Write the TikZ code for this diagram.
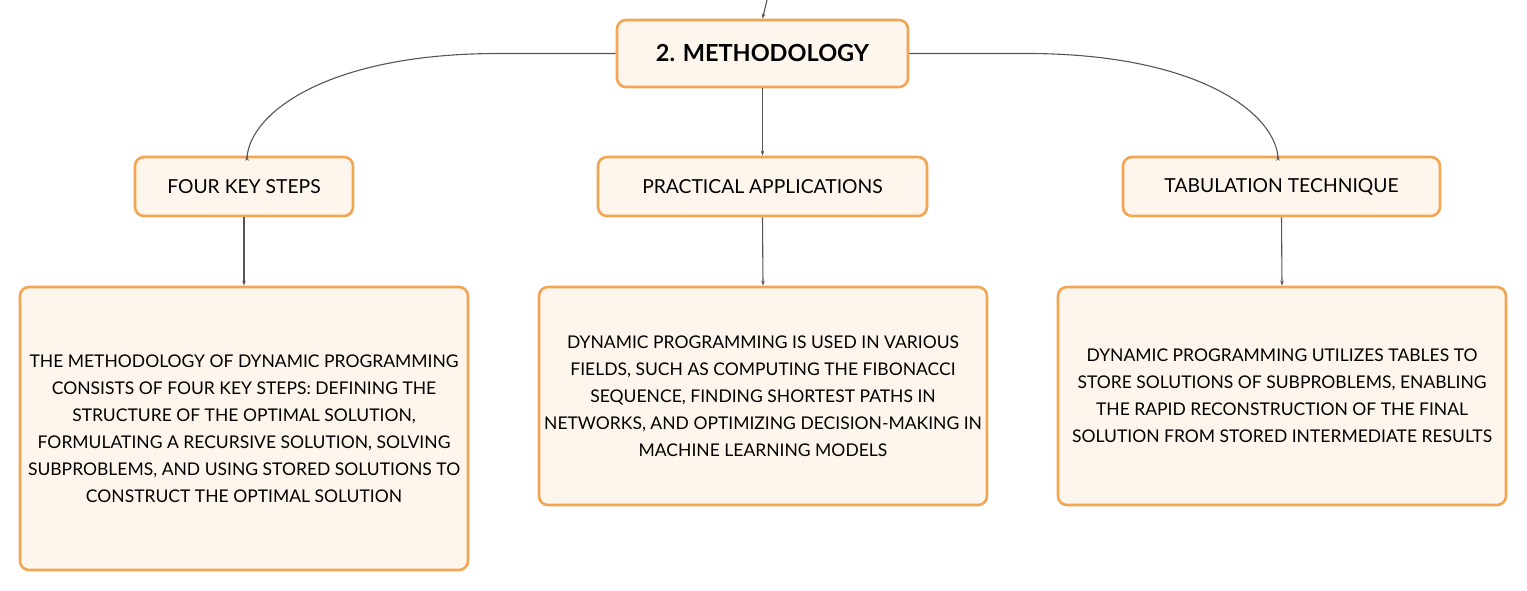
\documentclass[tikz,border=0pt]{standalone}
\usepackage{fontspec}
\setmainfont{Lato}
\usetikzlibrary{arrows.meta}
\definecolor{boxfill}{HTML}{FEF5EC}
\definecolor{boxline}{HTML}{F2A553}
\definecolor{conn}{HTML}{555555}
\tikzset{
  mbox/.style={draw=boxline, fill=boxfill, line width=2.6pt, rounded corners=9pt, inner sep=0pt, align=center, text=black},
  link/.style={draw=conn, line width=1.1pt, -{Stealth[length=5pt,width=3.5pt]}},
  bodytxt/.style={font=\fontsize{17.5}{27}\selectfont},
  subtxt/.style={font=\fontsize{19.3}{22}\selectfont}
}
\begin{document}
\begin{tikzpicture}[x=1pt,y=-1pt]
\useasboundingbox (0,0) rectangle (1527,591);
\node[mbox, minimum width=291pt, minimum height=67pt, font=\fontsize{23.5}{27}\bfseries] (meth) at (762.5,53.5) {2. METHODOLOGY};
\node[mbox, subtxt, minimum width=218pt, minimum height=59pt] (four) at (244,186.5) {FOUR KEY STEPS};
\node[mbox, subtxt, minimum width=329pt, minimum height=59pt] (prac) at (762.5,186.5) {PRACTICAL APPLICATIONS};
\node[mbox, subtxt, minimum width=317pt, minimum height=59pt] (tab) at (1281.5,186.5) {TABULATION TECHNIQUE};
\node[mbox, bodytxt, minimum width=448pt, minimum height=283pt] (b1) at (244,428.5) {THE METHODOLOGY OF DYNAMIC PROGRAMMING\\CONSISTS OF FOUR KEY STEPS: DEFINING THE\\STRUCTURE OF THE OPTIMAL SOLUTION,\\FORMULATING A RECURSIVE SOLUTION, SOLVING\\SUBPROBLEMS, AND USING STORED SOLUTIONS TO\\CONSTRUCT THE OPTIMAL SOLUTION};
\node[mbox, bodytxt, minimum width=448pt, minimum height=218pt] (b2) at (763,396) {DYNAMIC PROGRAMMING IS USED IN VARIOUS\\FIELDS, SUCH AS COMPUTING THE FIBONACCI\\SEQUENCE, FINDING SHORTEST PATHS IN\\NETWORKS, AND OPTIMIZING DECISION-MAKING IN\\MACHINE LEARNING MODELS};
\node[mbox, bodytxt, minimum width=448pt, minimum height=218pt] (b3) at (1282,396) {DYNAMIC PROGRAMMING UTILIZES TABLES TO\\STORE SOLUTIONS OF SUBPROBLEMS, ENABLING\\THE RAPID RECONSTRUCTION OF THE FINAL\\SOLUTION FROM STORED INTERMEDIATE RESULTS};
\coordinate (topin) at (767.5,-2);
\draw[link] (topin) -- (meth.north);
\draw[link] (meth.west) -- ++(-117,0) .. controls ++(-170,0) and (251,112) .. (247,157) -- (four.north -| 247,0);
\draw[link] (meth.east) -- ++(117,0) .. controls ++(170,0) and (1274,112) .. (1278,157) -- (tab.north -| 1278,0);
\draw[link] (meth.south) -- (prac.north);
\draw[link] (four.south) -- (b1.north);
\draw[link] (prac.south) -- (b2.north);
\draw[link] (tab.south) -- (b3.north);
\end{tikzpicture}
\end{document}
